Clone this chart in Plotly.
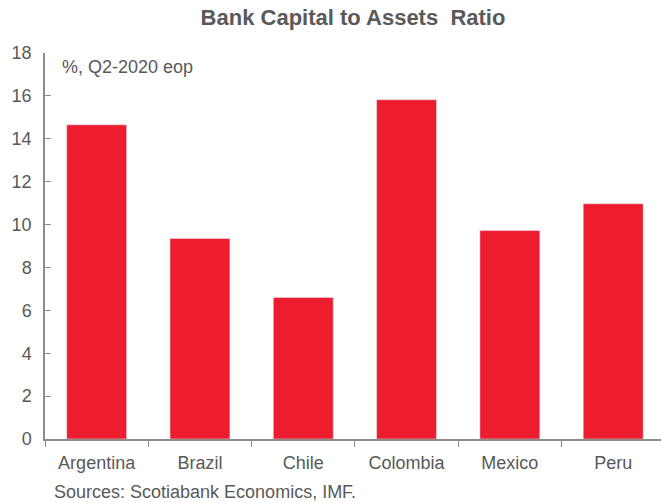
import plotly.graph_objects as go

categories = ["Argentina", "Brazil", "Chile", "Colombia", "Mexico", "Peru"]
values = [14.65, 9.35, 6.6, 15.82, 9.72, 10.97]
y_ticks = [0, 2, 4, 6, 8, 10, 12, 14, 16, 18]

GRAY = "#595959"
AXIS = "#8c8c8c"
FONT = "Liberation Sans, Arial, sans-serif"
FS = 18

L, R, T, B = 45, 0, 53, 64
W, H = 661, 503
PW, PH = W - L - R, H - T - B


def px(x):
    return (x - L) / PW


def py(y):
    return (H - B - y) / PH


fig = go.Figure(go.Bar(x=categories, y=values, marker_color="#ED1C2E", width=0.58))

fig.update_layout(
    width=W, height=H,
    margin=dict(l=L, r=R, t=T, b=B, autoexpand=False),
    paper_bgcolor="white", plot_bgcolor="white",
    font=dict(family=FONT, size=FS, color=GRAY),
    showlegend=False,
    title=dict(text="<b>Bank Capital to Assets&nbsp; Ratio</b>", x=353 / W, xanchor="center",
               y=1 - 17 / H, yanchor="middle", font=dict(size=22, color=GRAY)),
    xaxis=dict(range=[-0.5, 5.463], showline=True, linecolor=AXIS, linewidth=1.5,
               ticks="outside", tickson="boundaries", ticklen=6, tickcolor=AXIS,
               tickfont=dict(size=FS, color=GRAY), showgrid=False, ticklabelstandoff=7),
    yaxis=dict(range=[0, 18], tickvals=y_ticks, showline=True, linecolor=AXIS, linewidth=1.5,
               ticks="inside", ticklen=6, tickcolor=AXIS, showgrid=False, zeroline=False,
               tickfont=dict(size=FS, color=GRAY), ticklabelstandoff=8),
    annotations=[
        dict(text="%, Q2-2020 eop", x=px(60), y=py(67), xref="paper", yref="paper",
             xanchor="left", yanchor="middle", showarrow=False, font=dict(size=FS, color=GRAY)),
        dict(text="Sources: Scotiabank Economics, IMF.", x=px(52), y=py(492), xref="paper", yref="paper",
             xanchor="left", yanchor="middle", showarrow=False, font=dict(size=FS, color=GRAY)),
    ],
)
fig.write_html("out.html")
